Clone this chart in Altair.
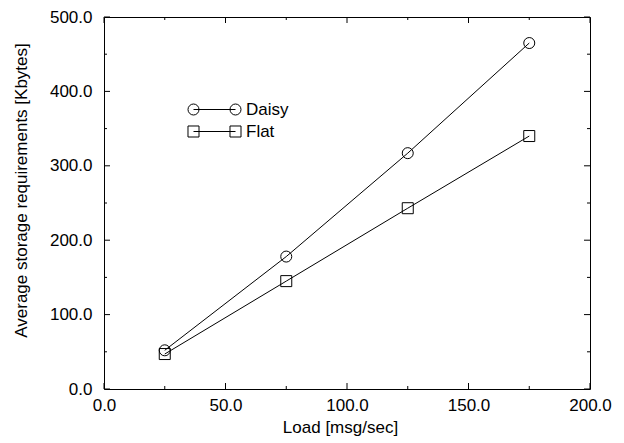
import altair as alt
import pandas as pd

# ---- data ----
loads = [25, 75, 125, 175]
daisy = [52, 178, 317, 465]
flat = [47, 145, 243, 340]
series_names = ["Daisy", "Flat"]

x_major = [0, 50, 100, 150, 200]
x_minor = [25, 75, 125, 175]
y_major = [0, 100, 200, 300, 400, 500]
y_minor = [50, 150, 250, 350, 450]

W, H = 486, 372
FONT = "Liberation Sans"
FS = 17

rows = []
for name, vals in zip(series_names, [daisy, flat]):
    for l, v in zip(loads, vals):
        rows.append({"series": name, "load": l, "kb": v})
df = pd.DataFrame(rows)

xscale = alt.Scale(domain=[0, 200], nice=False, zero=False)
yscale = alt.Scale(domain=[0, 500], nice=False, zero=False)
xax = alt.Axis(values=x_major, format=".1f", title="Load [msg/sec]", ticks=False,
               domain=False, grid=False, labelPadding=8, titlePadding=6,
               labelFlush=False, labelOverlap=False, titleX=236)
yax = alt.Axis(values=y_major, format=".1f", title="Average storage requirements [Kbytes]",
               ticks=False, domain=False, grid=False, labelPadding=12, titlePadding=19,
               labelFlush=False, labelOverlap=False, titleY=173)

X = lambda f: alt.X(f, type="quantitative", scale=xscale, axis=xax)
Y = lambda f: alt.Y(f, type="quantitative", scale=yscale, axis=yax)

base = alt.Chart(df)

lines = base.mark_line(color="black", strokeWidth=1).encode(
    x=X("load"), y=Y("kb"), detail="series:N"
)

points = base.mark_point(filled=False, size=121, color="black", strokeWidth=1, opacity=1).encode(
    x=X("load"), y=Y("kb"),
    shape=alt.Shape("series:N", scale=alt.Scale(domain=series_names, range=["circle", "square"]), legend=None),
)

# legend symbols: line with a marker at each end (units scaled by sqrt(size)/2 = 6px)
r = 0.917
c2 = 7.0
path_circle = (
    f"M 0 0 L {c2} 0 "
    f"M {r} 0 A {r} {r} 0 1 1 {-r} 0 A {r} {r} 0 1 1 {r} 0 "
    f"M {c2 + r} 0 A {r} {r} 0 1 1 {c2 - r} 0 A {r} {r} 0 1 1 {c2 + r} 0"
)
path_square = (
    f"M 0 0 L {c2} 0 "
    f"M {-r} {-r} L {r} {-r} L {r} {r} L {-r} {r} Z "
    f"M {c2 - r} {-r} L {c2 + r} {-r} L {c2 + r} {r} L {c2 - r} {r} Z"
)

legend_layer = base.transform_filter("false").mark_point(
    filled=False, color="black", strokeWidth=1, size=144
).encode(
    shape=alt.Shape(
        "series:N",
        scale=alt.Scale(domain=series_names, range=[path_circle, path_square]),
        legend=alt.Legend(
            title=None, orient="none", legendX=81, legendY=84,
            symbolSize=144, symbolStrokeColor="black", symbolStrokeWidth=1,
            symbolFillColor="transparent", symbolOpacity=1,
            labelFont=FONT, labelFontSize=FS, labelColor="black",
            labelOffset=44, rowPadding=4, padding=0,
        ),
    )
)

tick_major = 6
tick_minor = 3

def xticks(vals, L):
    d = pd.DataFrame({"v": vals})
    bot = alt.Chart(d).mark_rule(color="black", strokeWidth=1).encode(
        x=X("v"), y=alt.value(H), y2=alt.value(H - L))
    top = alt.Chart(d).mark_rule(color="black", strokeWidth=1).encode(
        x=X("v"), y=alt.value(0), y2=alt.value(L))
    return [bot, top]

def yticks(vals, L):
    d = pd.DataFrame({"v": vals})
    left = alt.Chart(d).mark_rule(color="black", strokeWidth=1).encode(
        y=Y("v"), x=alt.value(0), x2=alt.value(L))
    right = alt.Chart(d).mark_rule(color="black", strokeWidth=1).encode(
        y=Y("v"), x=alt.value(W), x2=alt.value(W - L))
    return [left, right]

ticks = xticks(x_major, tick_major) + xticks(x_minor, tick_minor) + \
    yticks(y_major, tick_major) + yticks(y_minor, tick_minor)

chart = alt.layer(*ticks, lines, points, legend_layer).resolve_scale(
    shape="independent"
).properties(
    width=W, height=H,
    autosize=alt.AutoSizeParams(type="none"),
    padding={"left": 96, "top": 9, "right": 26, "bottom": 50},
).configure_view(
    stroke="black", strokeWidth=1
).configure_axis(
    labelFont=FONT, labelFontSize=FS, labelColor="black",
    titleFont=FONT, titleFontSize=FS, titleColor="black", titleFontWeight="normal",
)

chart.save("out.html", embed_options={"renderer": "svg", "actions": False})
